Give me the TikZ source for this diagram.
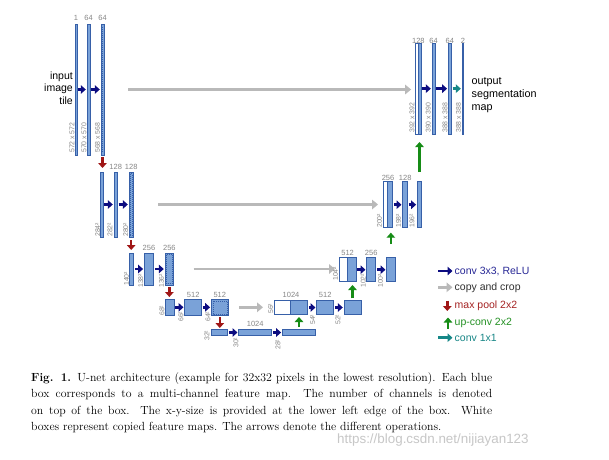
\documentclass[tikz,border=0pt]{standalone}
\usepackage{fontspec}
\newfontfamily\arial{Liberation Sans}
\usetikzlibrary{arrows.meta}
\definecolor{boxfill}{RGB}{122,162,216}
\definecolor{boxdraw}{RGB}{55,96,168}
\definecolor{convc}{RGB}{12,12,128}
\definecolor{copyc}{RGB}{185,185,185}
\definecolor{poolc}{RGB}{160,22,22}
\definecolor{upcc}{RGB}{22,140,22}
\definecolor{cnvone}{RGB}{22,135,135}
\definecolor{lblc}{RGB}{135,135,135}
\definecolor{legconv}{RGB}{40,40,150}
\definecolor{legcopy}{RGB}{50,50,50}
\definecolor{legpool}{RGB}{165,35,35}
\definecolor{legup}{RGB}{35,145,35}
\definecolor{legone}{RGB}{25,135,135}
\tikzset{
  fmap/.style={rectangle,draw=boxdraw,fill=boxfill,line width=0.7pt,inner sep=0pt,outer sep=0pt},
  wmap/.style={fmap,fill=white},
  cropd/.style={draw=boxdraw,line width=0.45pt,dash pattern=on 1pt off 1pt},
  convarrow/.style={draw=convc,line width=2.5pt,-{Triangle[length=5pt,width=8.5pt]},shorten <=1.2pt,shorten >=1.2pt},
  copyarrow/.style={draw=copyc,line width=2.8pt,-{Triangle[length=6pt,width=9.5pt]}},
  poolarrow/.style={draw=poolc,line width=2.5pt,-{Triangle[length=5pt,width=8.5pt]}},
  uparrow/.style={draw=upcc,line width=2.5pt,-{Triangle[length=5pt,width=8.5pt]}},
  onearrow/.style={draw=cnvone,line width=2.5pt,-{Triangle[length=5pt,width=8.5pt]},shorten <=1.2pt,shorten >=1.2pt},
  chl/.style={font=\arial\fontsize{7.5}{8}\selectfont,text=lblc,inner sep=0pt},
  szl/.style={font=\arial\fontsize{6.9}{8}\selectfont,text=lblc,inner sep=0pt,rotate=90,anchor=west},
  legtxt/.style={font=\arial\fontsize{10.5}{12}\selectfont,inner sep=0pt,anchor=west},
}
% name x1 y1 x2 y2
\newcommand\fm[6][fmap]{\node[#1,minimum width={(#5-#3)*1pt},minimum height={(#6-#4)*1pt}] (#2) at ({(#3+#5)/2},{(#4+#6)/2}) {};}
\newcommand\capline[1]{\hbox to 461pt{#1}}
\begin{document}
\begin{tikzpicture}[x=1pt,y=-1pt]
\useasboundingbox (0,0) rectangle (609,459);
\fill[white] (0,0) rectangle (609,459);
% ---------- level 1 left
\fm{La1}{75.2}{24}{77.2}{155}
\fm{La2}{87}{24}{90}{155}
\fm{La3}{101}{24}{104}{155}
\draw[cropd] ([yshift=-3pt]La3.north) -- ([yshift=3pt]La3.south);
\draw[convarrow] (La1) -- (La2);
\draw[convarrow] (La2) -- (La3);
\node[chl] (cLa1) at (76,18) {1};
\node[chl] (cLa2) at (88.5,18) {64};
\node[chl] (cLa3) at (102.5,18) {64};
\node[szl] (sLa1) at (72,153) {572 x 572};
\node[szl] (sLa2) at (84,153) {570 x 570};
\node[szl] (sLa3) at (97.5,153) {568 x 568};
\node[font=\arial\fontsize{10.5}{12.3}\selectfont,align=right,anchor=east,inner sep=0pt] (inp) at (73,88) {input\\image\\tile};
% ---------- level 2 left
\fm{Lb1}{100.7}{172}{103.2}{237}
\fm{Lb2}{114}{172}{117.4}{237}
\fm{Lb3}{129}{172}{133.4}{237}
\draw[cropd] ([shift={(1.2,1.5)}]Lb3.north west) rectangle ([shift={(-1.2,-1.5)}]Lb3.south east);
\draw[convarrow] (Lb1) -- (Lb2);
\draw[convarrow] (Lb2) -- (Lb3);
\node[chl] (cLb2) at (115.7,167) {128};
\node[chl] (cLb3) at (131.2,167) {128};
\node[szl] (sLb1) at (97.7,237) {284²};
\node[szl] (sLb2) at (110,237) {282²};
\node[szl] (sLb3) at (125.7,237) {280²};
% ---------- level 3 left
\fm{Lc1}{129.3}{253}{133.7}{285}
\fm{Lc2}{144.3}{253}{153.7}{285}
\fm{Lc3}{165}{253}{173.7}{285}
\draw[cropd] ([shift={(1.5,1.5)}]Lc3.north west) rectangle ([shift={(-1.5,-1.5)}]Lc3.south east);
\draw[convarrow] (Lc1) -- (Lc2);
\draw[convarrow] (Lc2) -- (Lc3);
\node[chl] (cLc2) at (149,247.5) {256};
\node[chl] (cLc3) at (169.4,247.5) {256};
\node[szl] (sLc1) at (126.5,286) {140²};
\node[szl] (sLc2) at (140.7,288) {138²};
\node[szl] (sLc3) at (161.5,288) {136²};
% ---------- level 4 left
\fm{Ld1}{165.7}{299.3}{174}{315.3}
\fm{Ld2}{184.7}{299.3}{201.7}{315.3}
\fm{Ld3}{211.3}{299.3}{228.3}{315.3}
\draw[cropd] ([shift={(1.5,1.5)}]Ld3.north west) rectangle ([shift={(-1.5,-1.5)}]Ld3.south east);
\draw[convarrow] (Ld1) -- (Ld2);
\draw[convarrow] (Ld2) -- (Ld3);
\node[chl] (cLd2) at (193.2,294.5) {512};
\node[chl] (cLd3) at (219.8,294.5) {512};
\node[szl] (sLd1) at (162,316) {68²};
\node[szl] (sLd2) at (181,322) {66²};
\node[szl] (sLd3) at (208,322) {64²};
% ---------- level 5
\fm{Le1}{211}{329.3}{227.7}{335.7}
\fm{Le2}{238.7}{329.3}{271.7}{335.7}
\fm{Le3}{282.3}{329.3}{315.7}{335.7}
\draw[convarrow] (Le1) -- (Le2);
\draw[convarrow] (Le2) -- (Le3);
\node[chl] (cLe2) at (255.2,324) {1024};
\node[szl] (sLe1) at (207,341) {32²};
\node[szl] (sLe2) at (236,348) {30²};
\node[szl] (sLe3) at (278,350) {28²};
% ---------- level 4 right
\fm[wmap]{Rd0}{274.3}{300.7}{290.7}{314.3}
\fm{Rd1}{290.7}{300.7}{307.7}{314.3}
\fm{Rd2}{316.7}{300.7}{333.7}{314.3}
\fm{Rd3}{344}{300.7}{361}{314.3}
\draw[convarrow] (Rd1) -- (Rd2);
\draw[convarrow] (Rd2) -- (Rd3);
\node[chl] (cRd1) at (291,295) {1024};
\node[chl] (cRd2) at (325.2,295) {512};
\node[szl] (sRd0) at (270.7,314) {56²};
\node[szl] (sRd2) at (312.7,325) {54²};
\node[szl] (sRd3) at (338,325) {52²};
% ---------- level 3 right
\fm[wmap]{Rc0}{339.3}{257.7}{347}{281.7}
\fm{Rc1}{347}{257.7}{356}{281.7}
\fm{Rc2}{366.7}{257.7}{375.7}{281.7}
\fm{Rc3}{386.7}{257.7}{395}{281.7}
\draw[convarrow] (Rc1) -- (Rc2);
\draw[convarrow] (Rc2) -- (Rc3);
\node[chl] (cRc1) at (347.6,252.7) {512};
\node[chl] (cRc2) at (371.2,252.7) {256};
\node[szl] (sRc0) at (335.5,281) {104²};
\node[szl] (sRc2) at (363.3,288) {102²};
\node[szl] (sRc3) at (380.5,288) {100²};
% ---------- level 2 right
\fm[wmap]{Rb0}{383.3}{181.7}{387.3}{227.7}
\fm{Rb1}{387.3}{181.7}{392.7}{227.7}
\fm{Rb2}{402.7}{181.7}{407.7}{227.7}
\fm{Rb3}{417.3}{181.7}{421.7}{227.7}
\draw[convarrow] (Rb1) -- (Rb2);
\draw[convarrow] (Rb2) -- (Rb3);
\node[chl] (cRb1) at (388,178) {256};
\node[chl] (cRb2) at (405.2,178) {128};
\node[szl] (sRb0) at (379.5,228) {200²};
\node[szl] (sRb2) at (398.5,228) {198²};
\node[szl] (sRb3) at (412,228) {196²};
% ---------- level 1 right
\fm[wmap]{Ra0}{415.6}{43.3}{418.3}{134}
\fm{Ra1}{418.3}{43.3}{421.2}{134}
\fm{Ra2}{432}{43.3}{435}{134}
\fm{Ra3}{448.3}{43.3}{451.3}{134}
\fm{Ra4}{462}{43.3}{463.6}{134}
\draw[convarrow] (Ra1) -- (Ra2);
\draw[convarrow] (Ra2) -- (Ra3);
\draw[onearrow] (Ra3) -- (Ra4);
\node[chl] (cRa1) at (418.4,40.7) {128};
\node[chl] (cRa2) at (433.5,40.7) {64};
\node[chl] (cRa3) at (449.8,40.7) {64};
\node[chl] (cRa4) at (463,40.7) {2};
\node[szl] (sRa1) at (412,133) {392 x 392};
\node[szl] (sRa2) at (428.3,133) {390 x 390};
\node[szl] (sRa3) at (445,133) {388 x 388};
\node[szl] (sRa4) at (458.5,133) {388 x 388};
\node[font=\arial\fontsize{10.8}{13.2}\selectfont,align=left,anchor=west,inner sep=0pt] (outl) at (471.5,95) {output\\segmentation\\map};
% ---------- copy and crop
\draw[copyarrow,shorten <=24pt,shorten >=4.5pt] (La3.east) -- (La3.east -| Ra0.west);
\draw[copyarrow,shorten <=24.7pt,shorten >=5.3pt] (Lb3.east) -- (Lb3.east -| Rb0.west);
\draw[copyarrow,shorten <=20pt,shorten >=4.3pt] (Lc3.east) -- (Lc3.east -| Rc0.west);
\draw[copyarrow,shorten <=10.7pt,shorten >=11.3pt] (Ld3.east) -- (Ld3.east -| Rd0.west);
% ---------- max pool
\draw[poolarrow,shorten <=2pt,shorten >=4pt] (La3.south) -- (La3.south |- Lb1.north);
\draw[poolarrow,shorten <=3pt,shorten >=3pt] (Lb3.south) -- (Lb3.south |- Lc1.north);
\draw[poolarrow,shorten <=2pt,shorten >=2.3pt] (Lc3.south) -- (Lc3.south |- Ld1.north);
\draw[poolarrow,shorten <=1.7pt,shorten >=1.3pt] (Ld3.south) -- (Ld3.south |- Le1.north);
% ---------- up-conv
\draw[uparrow,shorten <=2.3pt,shorten >=2.7pt] (Le3.north) -- (Le3.north |- Rd1.south);
\draw[uparrow,shorten <=2.4pt,shorten >=3.3pt] (Rd3.north) -- (Rd3.north |- Rc1.south);
\draw[uparrow,shorten <=13.7pt,shorten >=5pt] (Rc3.north) -- (Rc3.north |- Rb1.south);
\draw[uparrow,shorten <=9.7pt,shorten >=8pt] (Rb3.north) -- (Rb3.north |- Ra1.south);
% ---------- legend
\coordinate (g1a) at (438,271); \coordinate (g1b) at (452.5,271);
\coordinate (g2a) at (438,287.3); \coordinate (g2b) at (452.5,287.3);
\coordinate (g3a) at (447.3,300.5); \coordinate (g3b) at (447.3,311);
\coordinate (g4a) at (448,328.5); \coordinate (g4b) at (448,317.5);
\coordinate (g5a) at (438,337.7); \coordinate (g5b) at (452.5,337.7);
\draw[convarrow,shorten <=0pt,shorten >=0pt] (g1a) -- (g1b);
\draw[copyarrow] (g2a) -- (g2b);
\draw[poolarrow] (g3a) -- (g3b);
\draw[uparrow] (g4a) -- (g4b);
\draw[onearrow,shorten <=0pt,shorten >=0pt] (g5a) -- (g5b);
\node[legtxt,text=legconv] (t1) at (454.5,271) {conv 3x3, ReLU};
\node[legtxt,text=legcopy] (t2) at (454.5,287.3) {copy and crop};
\node[legtxt,text=legpool] (t3) at (454.5,305.5) {max pool 2x2};
\node[legtxt,text=legup] (t4) at (454.5,322.5) {up-conv 2x2};
\node[legtxt,text=legone] (t5) at (454.5,337.7) {conv 1x1};
% ---------- caption
\node[anchor=north west,inner sep=0pt,font=\fontsize{11.8}{16.4}\selectfont] (cap) at (31,372.5)
{\vbox{\baselineskip=16.4pt
\capline{\textbf{Fig. 1.} U-net architecture (example for 32x32 pixels in the lowest resolution). Each blue}
\capline{box corresponds to a multi-channel feature map. The number of channels is denoted}
\capline{on top of the box. The x-y-size is provided at the lower left edge of the box. White}
\hbox{boxes represent copied feature maps. The arrows denote the different operations.}}};
\node[anchor=west,inner sep=0pt,font=\arial\fontsize{13.4}{15}\selectfont,text=black!22] (wm) at (337,440) {https://blog.csdn.net/nijiayan123};
\end{tikzpicture}
\end{document}
